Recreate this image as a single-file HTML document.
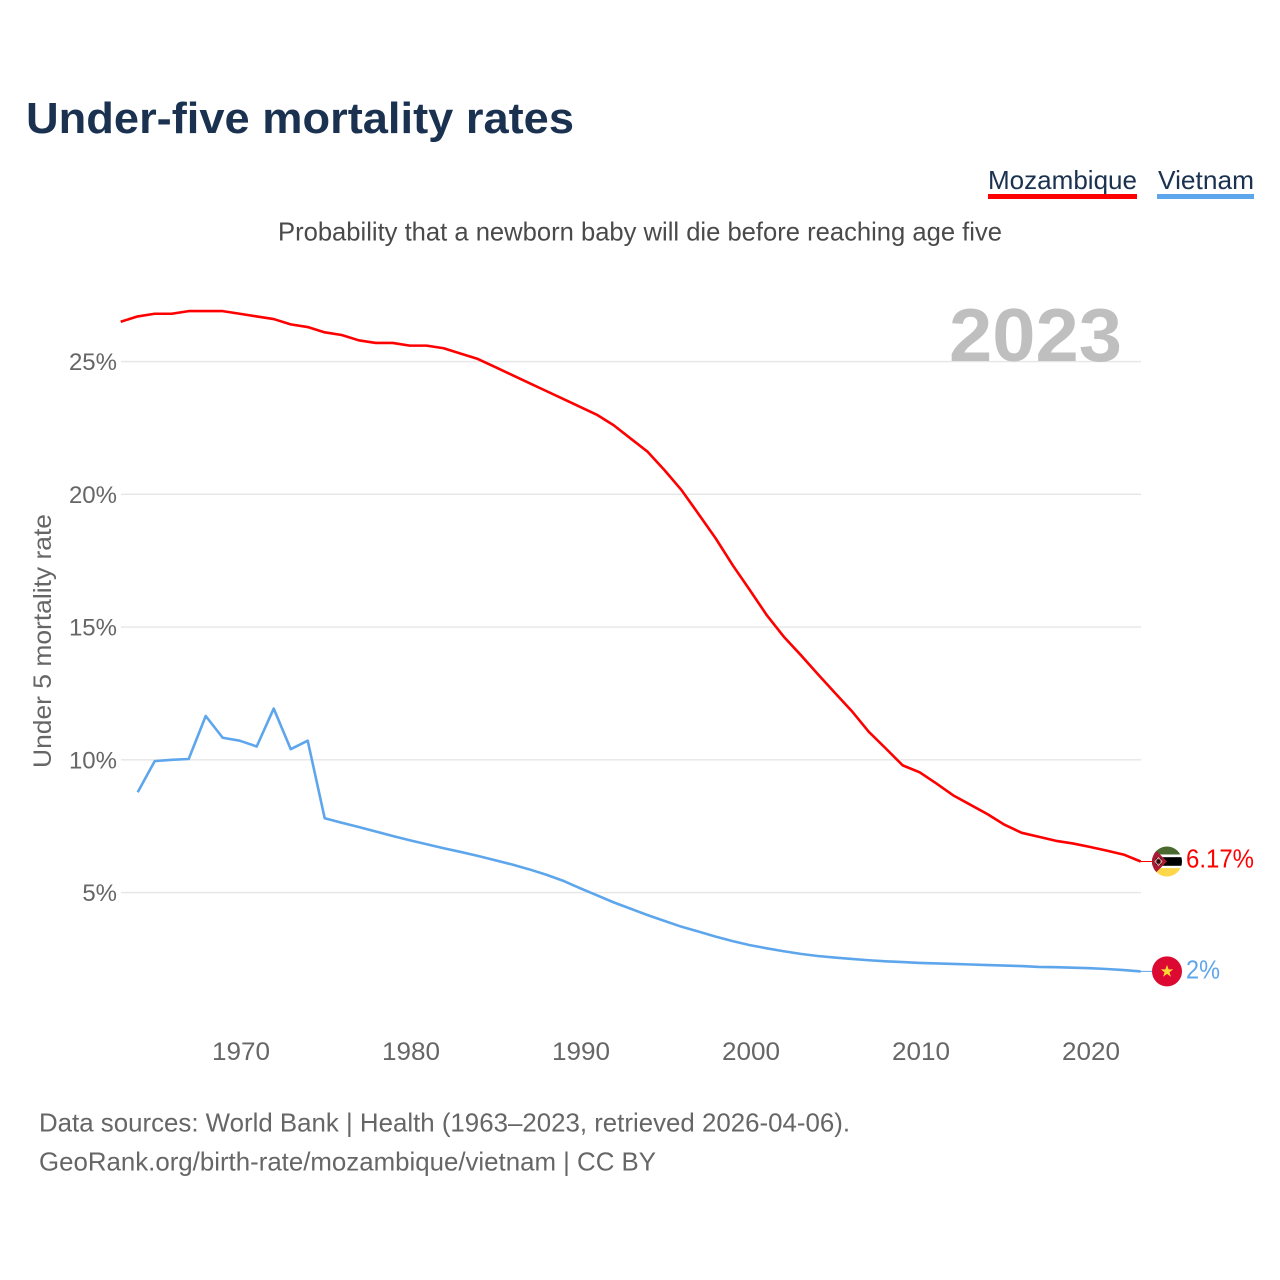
<!DOCTYPE html>
<html lang="en">
<head>
<meta charset="utf-8">
<title>Under-five mortality rates</title>
<style>
html,body{margin:0;padding:0;background:#fff;width:1280px;height:1280px;overflow:hidden}
svg{display:block}
text{font-family:"Liberation Sans",sans-serif}
</style>
</head>
<body>
<svg id="chart" xmlns="http://www.w3.org/2000/svg" width="1280" height="1280" viewBox="0 0 1280 1280">
  <defs>
    <clipPath id="moz-clip"><circle cx="0" cy="0" r="15"/></clipPath>
  </defs>
  <text x="26" y="133" font-size="44" font-weight="bold" fill="#1a3150" textLength="548" lengthAdjust="spacingAndGlyphs">Under-five mortality rates</text>
  <text x="988" y="189" font-size="26" fill="#1a3150" textLength="149" lengthAdjust="spacingAndGlyphs">Mozambique</text>
  <rect x="988" y="194" width="149" height="5" fill="#ff0000"/>
  <text x="1158" y="189" font-size="26" fill="#1a3150" textLength="96" lengthAdjust="spacingAndGlyphs">Vietnam</text>
  <rect x="1157" y="194" width="97" height="5" fill="#5ea6ec"/>
  <text x="278" y="240.5" font-size="26" fill="#4a4a4a" textLength="724" lengthAdjust="spacingAndGlyphs">Probability that a newborn baby will die before reaching age five</text>
  <g id="grid"></g>
  <text x="1122" y="361" font-size="75" font-weight="bold" fill="#bfbfbf" text-anchor="end" textLength="173" lengthAdjust="spacingAndGlyphs">2023</text>
  <g id="y-ticks"></g>
  <g id="x-ticks"></g>
  <text transform="translate(51,768) rotate(-90)" font-size="25" fill="#666666" textLength="254" lengthAdjust="spacingAndGlyphs">Under 5 mortality rate</text>
  <g id="series"></g>
  <g id="flag-moz" clip-path="url(#moz-clip)">
    <rect x="-15" y="-15" width="30" height="30" fill="#ffffff"/>
    <rect x="-15" y="-15" width="30" height="8" fill="#4a6a2f"/>
    <rect x="-15" y="-4.3" width="30" height="8.6" fill="#000000"/>
    <rect x="-15" y="6.6" width="30" height="9" fill="#fdd64a"/>
    <polygon points="-15,-15 -15,15 0,0" fill="#a81a36"/>
    <path d="M-11,-3 L-6,3 M-6,-3 L-11,3" stroke="#111" stroke-width="1.5"/>
    <path d="M-12,0 L-8.5,-4 L-5,0 L-8.5,4 Z" fill="none" stroke="#e8e0c0" stroke-width="0.7"/>
  </g>
  <g id="flag-vnm">
    <circle cx="0" cy="0" r="15" fill="#dc0a32"/>
    <polygon points="0,-6.5 1.6,-2 6.2,-2 2.5,0.8 3.9,5.3 0,2.5 -3.9,5.3 -2.5,0.8 -6.2,-2 -1.6,-2" fill="#fdd835"/>
  </g>
  <text id="end-label-moz" x="1186" y="867" font-size="26" fill="#ff0000" textLength="68" lengthAdjust="spacingAndGlyphs"></text>
  <text id="end-label-vnm" x="1186" y="978" font-size="26" fill="#5ea6ec" textLength="34" lengthAdjust="spacingAndGlyphs"></text>
  <text x="39" y="1131.5" font-size="26" fill="#666666" textLength="811" lengthAdjust="spacingAndGlyphs">Data sources: World Bank | Health (1963–2023, retrieved 2026-04-06).</text>
  <text x="39" y="1170.5" font-size="26" fill="#666666" textLength="617" lengthAdjust="spacingAndGlyphs">GeoRank.org/birth-rate/mozambique/vietnam | CC BY</text>
</svg>
<script>
const yTickValues = [5, 10, 15, 20, 25];
const yTickLabels = ['5%', '10%', '15%', '20%', '25%'];
const xTickValues = [1970, 1980, 1990, 2000, 2010, 2020];
const xTickLabels = ['1970', '1980', '1990', '2000', '2010', '2020'];
const mozambiqueStartYear = 1963;
const mozambiqueValues = [26.5,26.7,26.8,26.8,26.9,26.9,26.9,26.8,26.7,26.6,26.4,26.3,26.1,26.0,25.8,25.7,25.7,25.6,25.6,25.5,25.3,25.1,24.8,24.5,24.2,23.9,23.6,23.3,23.0,22.6,22.1,21.6,20.9,20.15,19.25,18.34,17.33,16.4,15.45,14.64,13.95,13.23,12.53,11.84,11.06,10.43,9.79,9.53,9.1,8.65,8.3,7.95,7.55,7.25,7.1,6.95,6.85,6.72,6.58,6.43,6.17];
const vietnamStartYear = 1964;
const vietnamValues = [8.78,9.95,10.0,10.03,11.65,10.83,10.72,10.5,11.93,10.4,10.72,7.8,7.63,7.47,7.3,7.13,6.97,6.82,6.67,6.53,6.38,6.22,6.06,5.88,5.68,5.45,5.17,4.9,4.63,4.39,4.15,3.93,3.71,3.53,3.34,3.17,3.02,2.9,2.79,2.69,2.61,2.55,2.5,2.45,2.41,2.38,2.35,2.33,2.31,2.29,2.27,2.25,2.23,2.2,2.19,2.17,2.15,2.12,2.08,2.03];
const mozambiqueEndLabel = '6.17%';
const vietnamEndLabel = '2%';

const NS = 'http://www.w3.org/2000/svg';
function xScale(year) { return 120.7 + (year - 1963) * 17; }
function yScale(value) { return 1025.3 - value * 26.55; }
function make(tag, attrs, parent) {
  const el = document.createElementNS(NS, tag);
  for (const k in attrs) el.setAttribute(k, attrs[k]);
  parent.appendChild(el);
  return el;
}
const gridGroup = document.getElementById('grid');
const yGroup = document.getElementById('y-ticks');
yTickValues.forEach(function (v, i) {
  const line = make('line', { x1: 121, x2: 1141, y1: yScale(v), y2: yScale(v), stroke: '#e6e6e6', 'stroke-width': 1.3 }, gridGroup);
  
  
  const t = make('text', { x: 117, y: yScale(v) + 8.5, 'font-size': 24, fill: '#666666', 'text-anchor': 'end' }, yGroup);
  
  
  t.textContent = yTickLabels[i];
});
const xGroup = document.getElementById('x-ticks');
xTickValues.forEach(function (v, i) {
  const t = make('text', { x: xScale(v) + 1.3, y: 1060, 'font-size': 25, fill: '#666666', 'text-anchor': 'middle' }, xGroup);
  
  
  t.setAttribute('textLength', 58);
  t.setAttribute('lengthAdjust', 'spacingAndGlyphs');
  t.textContent = xTickLabels[i];
});
function linePoints(values, startYear) {
  return values.map(function (v, i) {
    return xScale(startYear + i).toFixed(2) + ',' + yScale(v).toFixed(2);
  }).join(' ');
}
const seriesGroup = document.getElementById('series');
const mozLine = make('polyline', { points: linePoints(mozambiqueValues, mozambiqueStartYear), fill: 'none', stroke: '#ff0000', 'stroke-width': 2.6, 'stroke-linejoin': 'round' }, seriesGroup);


const vnmLine = make('polyline', { points: linePoints(vietnamValues, vietnamStartYear), fill: 'none', stroke: '#5ea6ec', 'stroke-width': 2.6, 'stroke-linejoin': 'round' }, seriesGroup);


const lastMoz = mozambiqueValues[mozambiqueValues.length - 1];
const lastVnm = vietnamValues[vietnamValues.length - 1];
const mozLead = make('line', { x1: xScale(2023), x2: 1152, y1: yScale(lastMoz), y2: yScale(lastMoz), stroke: '#ff0000', 'stroke-width': 1 }, seriesGroup);


const vnmLead = make('line', { x1: xScale(2023), x2: 1152, y1: yScale(lastVnm), y2: yScale(lastVnm), stroke: '#5ea6ec', 'stroke-width': 1 }, seriesGroup);


document.getElementById('flag-moz').setAttribute('transform', 'translate(1167,' + yScale(lastMoz) + ')');
document.getElementById('flag-vnm').setAttribute('transform', 'translate(1167,' + yScale(lastVnm) + ')');
const mozText = document.getElementById('end-label-moz');
mozText.textContent = mozambiqueEndLabel;
mozText.setAttribute('y', yScale(lastMoz) + 6);
const vnmText = document.getElementById('end-label-vnm');
vnmText.textContent = vietnamEndLabel;
vnmText.setAttribute('y', yScale(lastVnm) + 7);
</script>
</body>
</html>
